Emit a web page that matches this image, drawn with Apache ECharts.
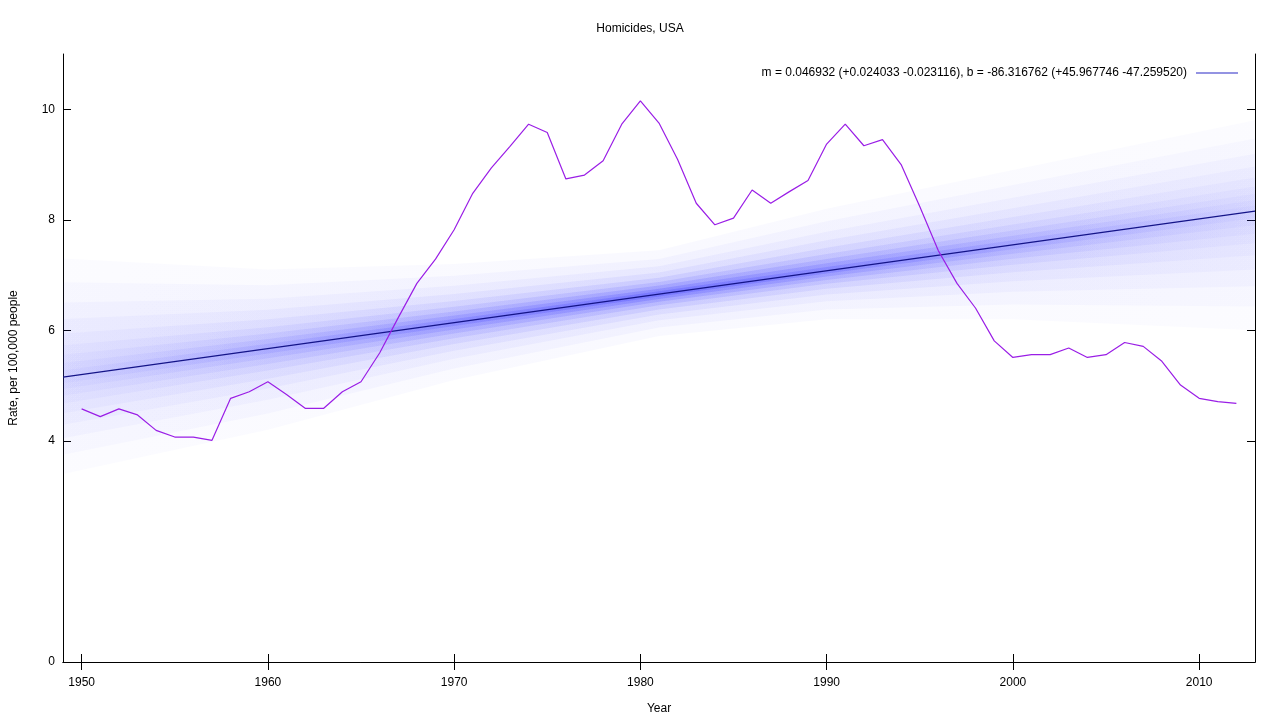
<!DOCTYPE html>
<html><head><meta charset="utf-8">
<script src="https://cdn.jsdelivr.net/npm/echarts@6/dist/echarts.min.js"></script>
<style>html,body{margin:0;padding:0;background:#fff}#c{width:1280px;height:720px}</style>
</head><body><div id="c"></div><script>
const years = [1950,1951,1952,1953,1954,1955,1956,1957,1958,1959,
  1960,1961,1962,1963,1964,1965,1966,1967,1968,1969,
  1970,1971,1972,1973,1974,1975,1976,1977,1978,1979,
  1980,1981,1982,1983,1984,1985,1986,1987,1988,1989,
  1990,1991,1992,1993,1994,1995,1996,1997,1998,1999,
  2000,2001,2002,2003,2004,2005,2006,2007,2008,2009,
  2010,2011,2012];
const rates = [4.58,4.44,4.58,4.47,4.19,4.07,4.07,4.01,4.77,4.89,
  5.07,4.84,4.59,4.59,4.89,5.07,5.59,6.23,6.85,7.29,
  7.82,8.48,8.94,9.33,9.73,9.58,8.74,8.81,9.07,9.73,
  10.15,9.75,9.09,8.30,7.91,8.03,8.54,8.30,8.51,8.71,
  9.37,9.73,9.34,9.45,9.00,8.24,7.44,6.85,6.40,5.81,
  5.51,5.56,5.56,5.68,5.51,5.56,5.78,5.71,5.44,5.01,
  4.77,4.71,4.68];
const xTicks = [1950,1960,1970,1980,1990,2000,2010];
const yTicks = [0,4,6,8,10];
const fitYears = [1949, 2013];
const fitValues = [5.154, 8.157];
// uncertainty haze (envelope)
const hazeYears  = [1949, 1960, 1970, 1981, 1990, 2000, 2013];
const hazeCenter = [5.15, 5.67, 6.14, 6.66, 7.08, 7.55, 8.16];
const hazeEnvLow = [3.4, 4.2, 5.1, 5.9, 6.2, 6.2, 6.0];
const hazeEnvHigh= [7.3, 7.1, 7.2, 7.45, 8.2, 8.9, 9.8];
const titleText = 'Homicides, USA';
const xName = 'Year';
const yName = 'Rate, per 100,000 people';
const legendLabel = 'm = 0.046932 (+0.024033 -0.023116), b = -86.316762 (+45.967746 -47.259520)';

// styling of the haze (nested soft layers)
const hazeLevels   = [1.0, 0.8, 0.63, 0.49, 0.37, 0.27, 0.19, 0.12, 0.06];
const hazeAlphaEnd = [0.02,0.025,0.03,0.03,0.03,0.03,0.03,0.03,0.03];
const hazeAlphaMid = [0.03,0.04,0.05,0.07,0.10,0.13,0.17,0.21,0.26];
const hazeWeight   = [0, 0.35, 0.7, 1, 0.75, 0.4, 0];

const FONT = '"Liberation Sans", Arial, sans-serif';
const chart = echarts.init(document.getElementById('c'), null, {renderer:'canvas'});
const axisLine = {show:true, lineStyle:{color:'#000', width:1}};
const tick = {show:true, inside:true, length:8, lineStyle:{color:'#000', width:1}};
const hazeColor = a => `rgba(60,60,255,${a.toFixed(4)})`;
const span = hazeYears[hazeYears.length-1] - hazeYears[0];

chart.setOption({
  animation:false,
  backgroundColor:'#fff',
  title:{text:titleText, left:'center', top:18, textStyle:{fontFamily:FONT, fontSize:12, fontWeight:'normal', color:'#000'}},
  legend:{
    data:[{name:legendLabel, icon:'rect', itemStyle:{color:'#6f6fd8'}}],
    align:'right', right:37, top:62, itemWidth:42, itemHeight:1.5,
    textStyle:{fontFamily:FONT, fontSize:12, color:'#000', padding:[0,4,0,0]},
    selectedMode:false
  },
  grid:{left:63, right:25, top:54, bottom:58, containLabel:false},
  xAxis:[
    {type:'value', min:1949, max:2013, position:'bottom',
     name:xName, nameLocation:'middle', nameGap:41,
     nameTextStyle:{fontFamily:FONT, fontSize:12, color:'#000'},
     axisLine:axisLine, axisTick:Object.assign({customValues:xTicks}, tick),
     axisLabel:{customValues:xTicks, margin:15, formatter:v=>String(v), fontFamily:FONT, fontSize:12, color:'#000'},
     splitLine:{show:false}},
    {type:'value', min:1949, max:2013, position:'top',
     axisLine:axisLine, axisTick:Object.assign({customValues:xTicks}, tick),
     axisLabel:{show:false}, splitLine:{show:false}}
  ],
  yAxis:[
    {type:'value', min:0, max:11, position:'left',
     name:yName, nameLocation:'middle', nameGap:43, nameRotate:90,
     nameTextStyle:{fontFamily:FONT, fontSize:12, color:'#000'},
     axisLine:axisLine, axisTick:Object.assign({customValues:yTicks}, tick),
     axisLabel:{customValues:yTicks, margin:8, fontFamily:FONT, fontSize:12, color:'#000'},
     splitLine:{show:false}},
    {type:'value', min:0, max:11, position:'right',
     axisLine:axisLine, axisTick:Object.assign({customValues:yTicks}, tick),
     axisLabel:{show:false}, splitLine:{show:false}}
  ],
  series:[
    {type:'custom', name:'haze', xAxisIndex:0, yAxisIndex:0, z:1, silent:true,
     data: hazeLevels.map((_, i) => i),
     renderItem:function(params, api){
       const i = params.dataIndex, f = hazeLevels[i];
       const up = hazeYears.map((y,k)=>api.coord([y, hazeCenter[k] + f*(hazeEnvHigh[k]-hazeCenter[k])]));
       const lo = hazeYears.map((y,k)=>api.coord([y, hazeCenter[k] - f*(hazeCenter[k]-hazeEnvLow[k])])).reverse();
       const stops = hazeYears.map((y,k)=>({offset:(y-hazeYears[0])/span,
         color:hazeColor(hazeAlphaEnd[i] + (hazeAlphaMid[i]-hazeAlphaEnd[i])*hazeWeight[k])}));
       return {type:'polygon', shape:{points:up.concat(lo)},
         style:{fill:new echarts.graphic.LinearGradient(0,0,1,0,stops)}};
     }},
    {type:'line', name:legendLabel, z:3, symbol:'none',
     itemStyle:{color:'#6f6fd8'},
     data: fitYears.map((y,i)=>[y, fitValues[i]]),
     lineStyle:{color:'#141488', width:1.2}},
    {type:'line', name:'rate', z:4, symbol:'none',
     itemStyle:{color:'#9a1ee6'},
     data: years.map((y,i)=>[y, rates[i]]),
     lineStyle:{color:'#9a1ee6', width:1.2}}
  ]
});
</script></body></html>
